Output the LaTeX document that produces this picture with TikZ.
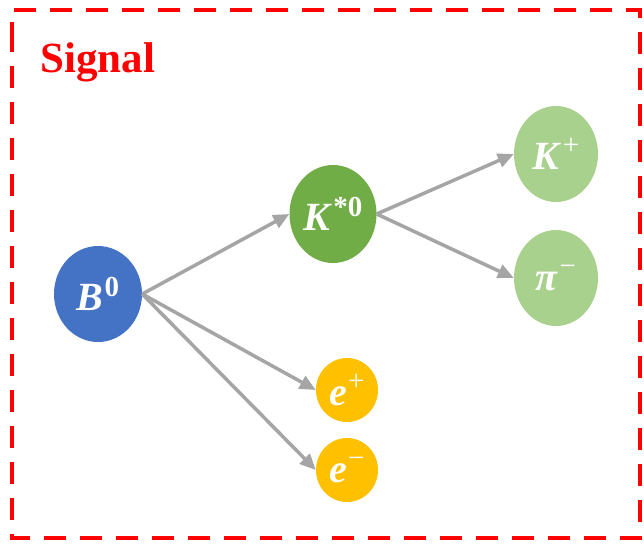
\documentclass[tikz,border=0pt]{standalone}
\usepackage{fontspec}
\setmainfont{Liberation Serif}
\usetikzlibrary{shapes.geometric,arrows.meta}

\definecolor{sigred}{HTML}{FF0000}
\definecolor{bblue}{HTML}{4472C4}
\definecolor{kgreen}{HTML}{70AD47}
\definecolor{lgreen}{HTML}{A9D18E}
\definecolor{egold}{HTML}{FFC000}
\definecolor{arrowgray}{HTML}{A5A5A5}

\newcommand{\ptcl}[2]{\textit{#1}\kern1pt\raisebox{0.36em}{\fontsize{29}{30}\selectfont #2}}

\tikzset{
particle/.style={ellipse,inner sep=0pt,text=white,
  font=\fontsize{40}{44}\selectfont\bfseries},
decay/.style={draw=arrowgray,line width=3.5pt,
  -{Triangle[length=16pt,width=14pt]}}
}

\begin{document}
\begin{tikzpicture}[x=1pt,y=-1pt]

\useasboundingbox (0,0) rectangle (644,544);

% Signal
\draw[sigred,line width=4.5pt,dash pattern=on 22pt off 14pt]
(12,30) -- (12,538) -- (640,538) -- (640,10) -- (12,10) -- (12,30);

\node[text=sigred,anchor=west,font=\fontsize{43}{48}\selectfont\bfseries]
(title) at (37,62) {Signal};

% B0
\node[particle,fill=bblue,minimum width=88pt,minimum height=96pt]
(b0) at (98,294) {\ptcl{B}{0}};

% K*0
\node[particle,fill=kgreen,minimum width=87pt,minimum height=98pt]
(kst) at (333,214) {\ptcl{K}{*0}};

% K+ pi-
\node[particle,fill=lgreen,minimum width=84pt,minimum height=96pt]
(kp) at (556,154) {\ptcl{K}{\mdseries +}};
\node[particle,fill=lgreen,minimum width=84pt,minimum height=96pt]
(pim) at (556,278) {\ptcl{π}{\mdseries −}};

% e+ e-
\node[particle,fill=egold,minimum width=62pt,minimum height=64pt]
(ep) at (347,390) {\ptcl{e}{\mdseries +}};
\node[particle,fill=egold,minimum width=62pt,minimum height=64pt]
(em) at (347,470) {\ptcl{e}{\mdseries −}};

% decays
\foreach \a/\b in {b0/kst,b0/ep,b0/em,kst/kp,kst/pim}
{
\draw[decay] (\a.east) -- (\b.west);
}

\end{tikzpicture}
\end{document}
